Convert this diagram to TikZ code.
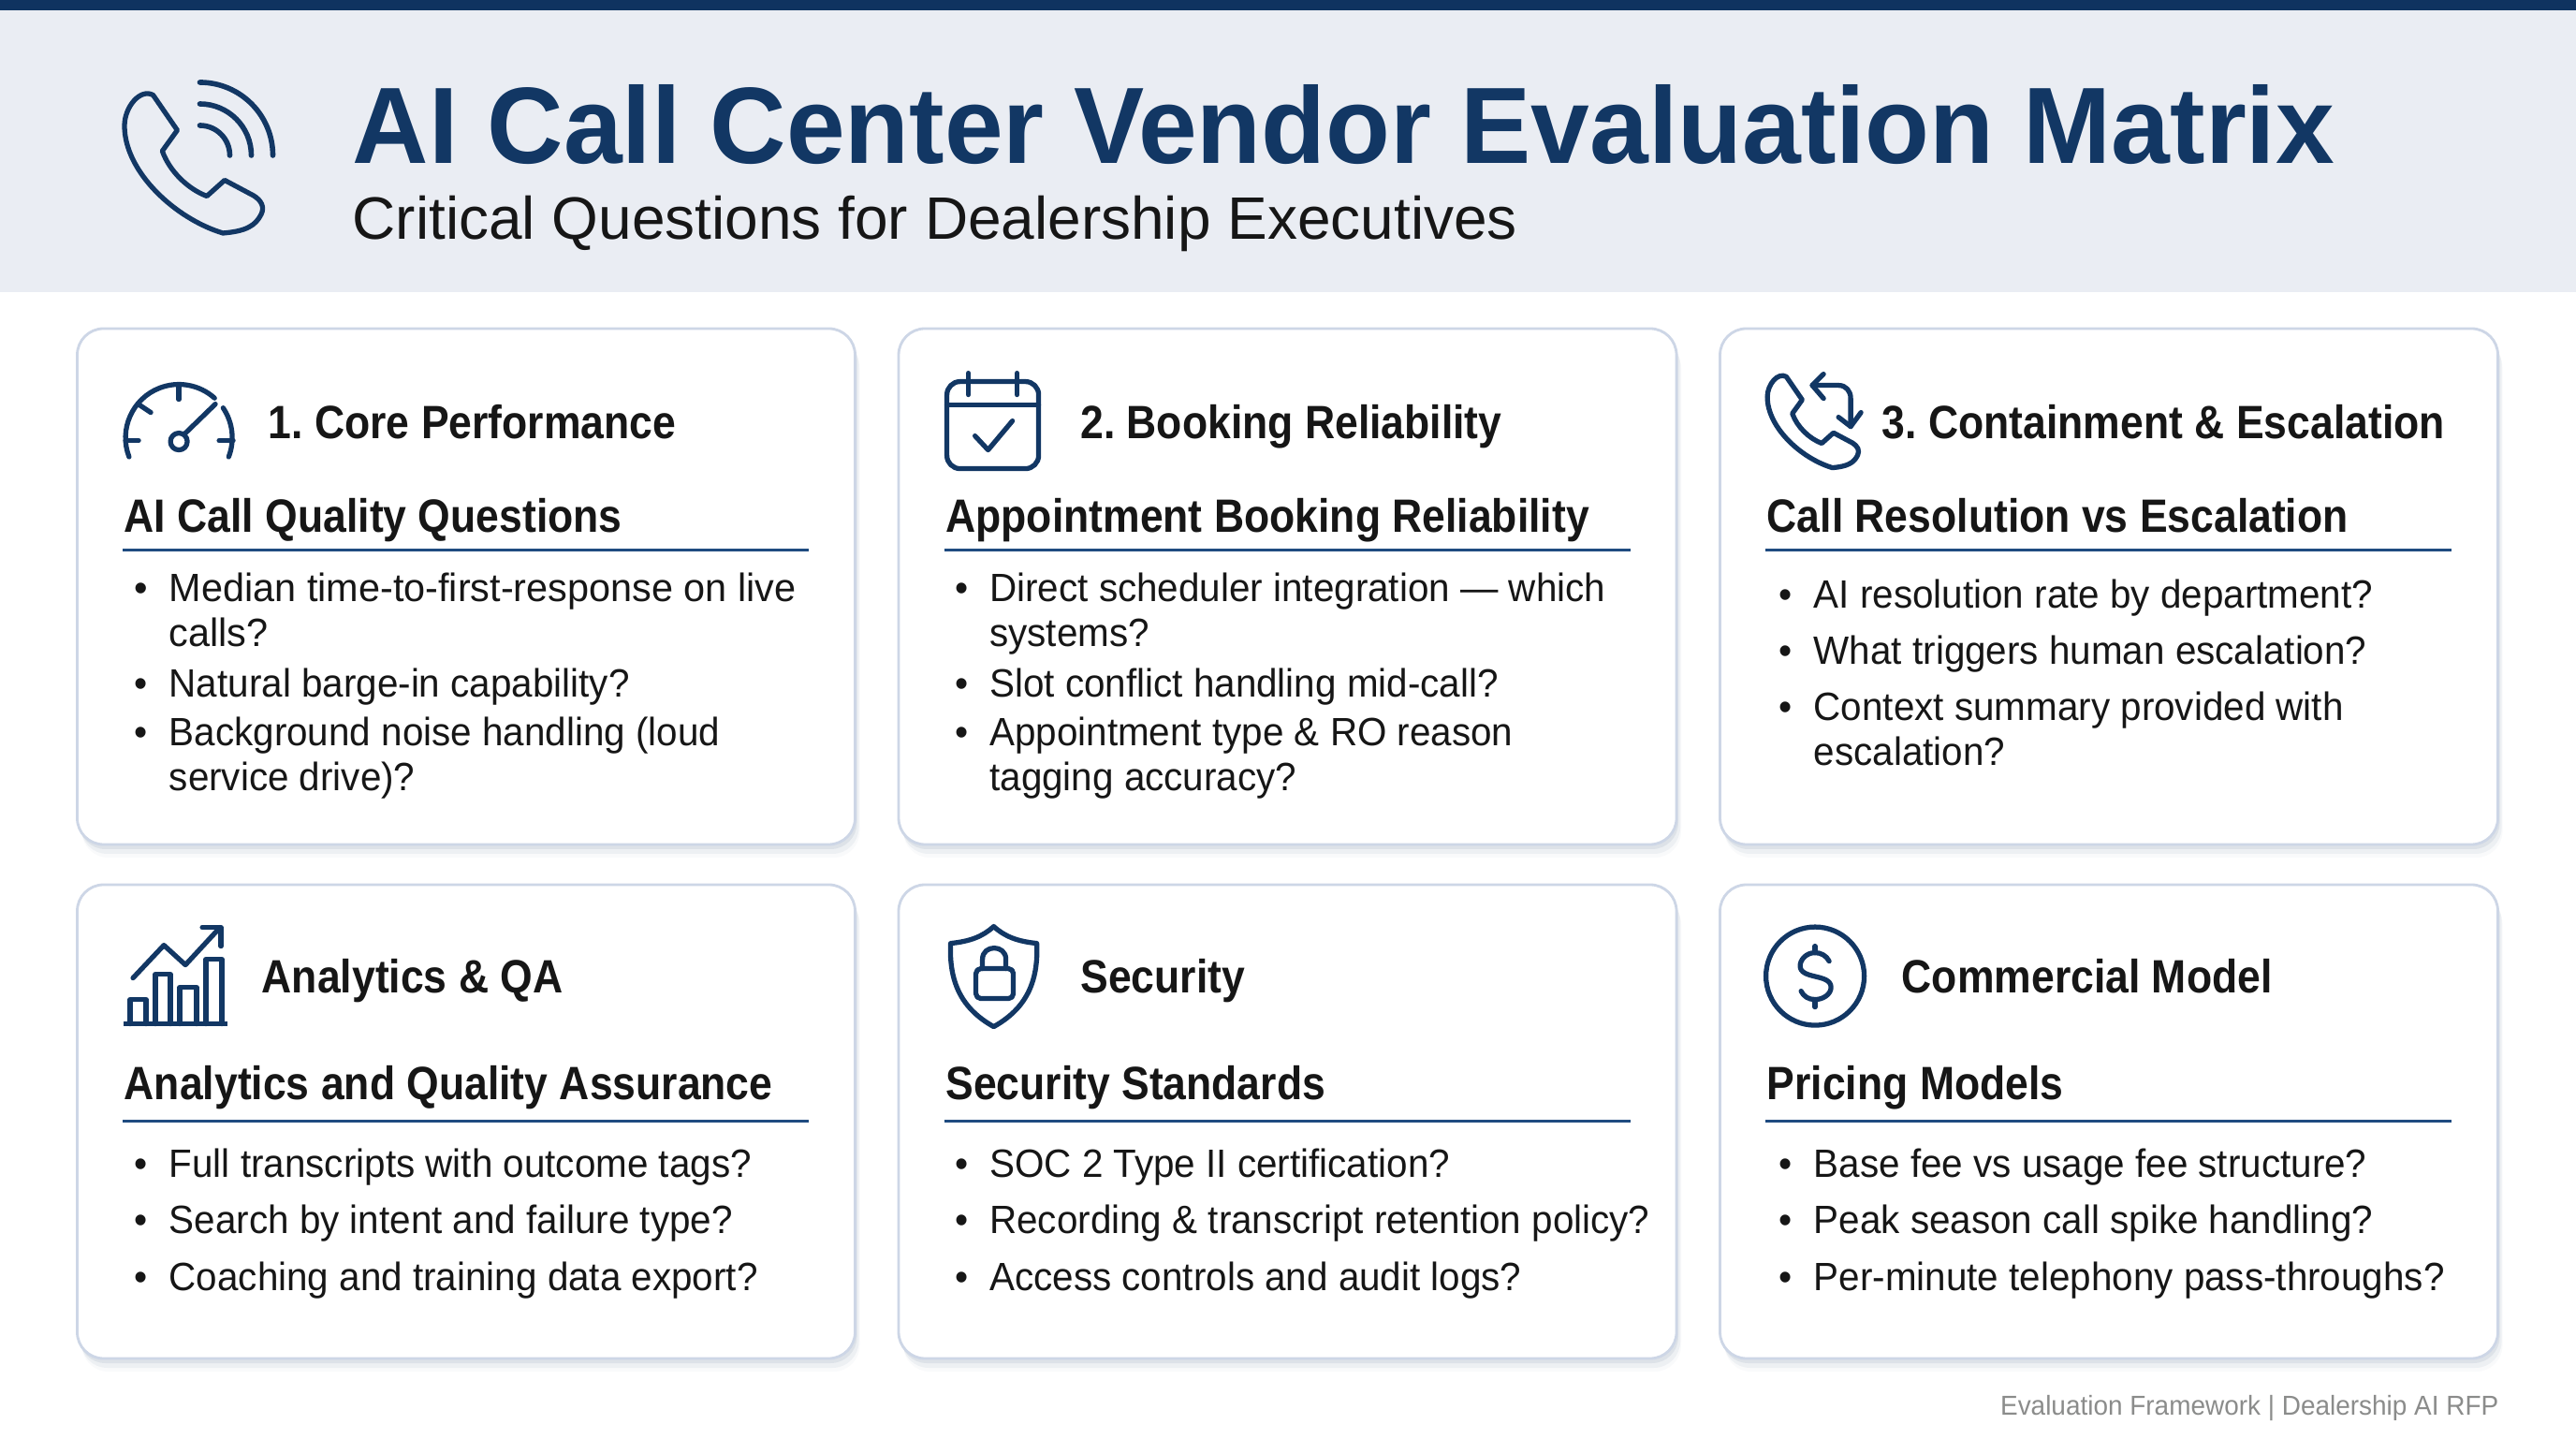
\documentclass[tikz,border=0pt]{standalone}
\usepackage{fontspec}
\setmainfont{Liberation Sans}
\newfontfamily\titlefont[FakeStretch=0.972]{Liberation Sans Bold}
\newfontfamily\headfont[FakeStretch=0.892]{Liberation Sans Bold}
\newfontfamily\itemfont[FakeStretch=0.958]{Liberation Sans}
\newfontfamily\itemwidefont[FakeStretch=0.982]{Liberation Sans}
\usetikzlibrary{calc, shadows}
\usetikzlibrary{positioning}

\definecolor{navy}{HTML}{123764}
\definecolor{topbar}{HTML}{0F3360}
\definecolor{band}{HTML}{EAEDF3}
\definecolor{ink}{HTML}{161616}
\definecolor{edge}{HTML}{CDD6E6}
\definecolor{rulecol}{HTML}{1F4B80}
\definecolor{footgrey}{HTML}{8B8C8B}

\newcommand{\bul}{\llap{\textbullet\hspace{6.5pt}}\strut}

\tikzset{
    card/.style={rectangle, rounded corners=8pt, draw=edge, line width=0.8pt, fill=white, minimum width=8.31cm,
        general shadow={shadow xshift=.05cm, shadow yshift=-.14cm, fill=navy, opacity=.025},
        general shadow={shadow xshift=.04cm, shadow yshift=-.10cm, fill=navy, opacity=.05},
        general shadow={shadow xshift=.02cm, shadow yshift=-.05cm, fill=navy, opacity=.07}},
    headtext/.style={anchor=base west, inner sep=0, text=ink, font=\frenchspacing\headfont\fontsize{14.2}{16}\selectfont},
    subtext/.style={anchor=base west, inner sep=0, text=ink, font=\headfont\fontsize{14.2}{16}\selectfont},
    itemtext/.style={anchor=north west, inner sep=0, align=left, text=ink, font=\itemfont\fontsize{12}{13.8}\selectfont},
    rulebar/.style={draw=rulecol, line width=1.05pt},
    iconline/.style={draw=navy, line width=1.5pt, line cap=round, line join=round},
    pics/handset/.style={code={
        \draw[iconline] (0.306,1.474) -- (0.564,1.099) -- (0.404,0.877)
            .. controls (0.48,0.66) and (0.68,0.47) .. (0.88,0.395) -- (1.07,0.565) -- (1.38,0.40)
            .. controls (1.46,0.35) and (1.50,0.28) .. (1.46,0.20)
            .. controls (1.40,0.08) and (1.30,0.02) .. (1.052,0)
            .. controls (0.55,0.15) and (0,0.65) .. (0,1.146)
            .. controls (0,1.35) and (0.17,1.55) .. cycle;
    }}
}

\begin{document}
\begin{tikzpicture}
    \useasboundingbox (0,0) rectangle (27.52,15.36);

    % header band
    \fill[white] (0,0) rectangle (27.52,15.36);
    \fill[band] (0,12.24) rectangle (27.52,15.36);
    \fill[topbar] (0,15.25) rectangle (27.52,15.36);

    % header text
    \node[anchor=base west, inner sep=0, text=navy, font=\titlefont\fontsize{33}{36}\selectfont] (title) at (3.76,13.61) {AI Call Center Vendor Evaluation Matrix};
    \node[anchor=base west, inner sep=0, text=ink, font=\fontsize{18.2}{20}\selectfont] (subtitle) at (3.76,12.80) {Critical Questions for Dealership Executives};

    % header icon
    \pic (callicon) at (1.33,12.87) {handset};
    \draw[iconline, line width=1.6pt] ($(1.33,12.87) + (0.805,1.61)$) arc (90:0:0.78);
    \draw[iconline, line width=1.6pt] ($(1.33,12.87) + (0.805,1.38)$) arc (90:0:0.55);
    \draw[iconline, line width=1.6pt] ($(1.33,12.87) + (0.805,1.15)$) arc (90:0:0.32);

    % cards
    \node[card, minimum height=5.51cm] (card1) at (4.98,9.095) {};
    \node[card, minimum height=5.51cm] (card2) at ($(card1) + (8.775,0)$) {};
    \node[card, minimum height=5.51cm] (card3) at ($(card2) + (8.775,0)$) {};
    \node[card, minimum height=5.06cm] (card4) at (4.98,3.38) {};
    \node[card, minimum height=5.06cm] (card5) at ($(card4) + (8.775,0)$) {};
    \node[card, minimum height=5.06cm] (card6) at ($(card5) + (8.775,0)$) {};

    % card 1
    \node[headtext] (head1) at ($(card1.north west) + (2.05,-1.19)$) {1. Core Performance};
    \node[subtext] (sub1) at ($(card1.north west) + (0.51,-2.19)$) {AI Call Quality Questions};
    \draw[rulebar] ($(card1.north west) + (0.50,-2.38)$) -- ($(card1.north west) + (7.83,-2.38)$);
    \node[itemtext, font=\itemwidefont\fontsize{12}{13.8}\selectfont] (item11) at ($(card1.north west) + (0.99,-2.58)$) {\bul Median time-to-first-response on live\\calls?};
    \node[itemtext] (item12) at ($(card1.north west) + (0.99,-3.60)$) {\bul Natural barge-in capability?};
    \node[itemtext] (item13) at ($(card1.north west) + (0.99,-4.12)$) {\bul Background noise handling (loud\\service drive)?};

    % card 2
    \node[headtext] (head2) at ($(card2.north west) + (1.95,-1.19)$) {2. Booking Reliability};
    \node[subtext] (sub2) at ($(card2.north west) + (0.51,-2.19)$) {Appointment Booking Reliability};
    \draw[rulebar] ($(card2.north west) + (0.50,-2.38)$) -- ($(card2.north west) + (7.83,-2.38)$);
    \node[itemtext] (item21) at ($(card2.north west) + (0.98,-2.58)$) {\bul Direct scheduler integration — which\\systems?};
    \node[itemtext] (item22) at ($(card2.north west) + (0.98,-3.60)$) {\bul Slot conflict handling mid-call?};
    \node[itemtext] (item23) at ($(card2.north west) + (0.98,-4.12)$) {\bul Appointment type \& RO reason\\tagging accuracy?};

    % card 3
    \node[headtext] (head3) at ($(card3.north west) + (1.74,-1.19)$) {3. Containment \& Escalation};
    \node[subtext] (sub3) at ($(card3.north west) + (0.51,-2.19)$) {Call Resolution vs Escalation};
    \draw[rulebar] ($(card3.north west) + (0.50,-2.38)$) -- ($(card3.north west) + (7.83,-2.38)$);
    \node[itemtext] (item31) at ($(card3.north west) + (1.01,-2.65)$) {\bul AI resolution rate by department?};
    \node[itemtext] (item32) at ($(card3.north west) + (1.01,-3.25)$) {\bul What triggers human escalation?};
    \node[itemtext] (item33) at ($(card3.north west) + (1.01,-3.85)$) {\bul Context summary provided with\\escalation?};

    % card 4
    \node[headtext] (head4) at ($(card4.north west) + (1.98,-1.17)$) {Analytics \& QA};
    \node[subtext] (sub4) at ($(card4.north west) + (0.51,-2.31)$) {Analytics and Quality Assurance};
    \draw[rulebar] ($(card4.north west) + (0.50,-2.54)$) -- ($(card4.north west) + (7.83,-2.54)$);
    \node[itemtext] (item41) at ($(card4.north west) + (0.99,-2.79)$) {\bul Full transcripts with outcome tags?};
    \node[itemtext] (item42) at ($(card4.north west) + (0.99,-3.39)$) {\bul Search by intent and failure type?};
    \node[itemtext] (item43) at ($(card4.north west) + (0.99,-4.00)$) {\bul Coaching and training data export?};

    % card 5
    \node[headtext] (head5) at ($(card5.north west) + (1.95,-1.17)$) {Security};
    \node[subtext] (sub5) at ($(card5.north west) + (0.51,-2.31)$) {Security Standards};
    \draw[rulebar] ($(card5.north west) + (0.50,-2.54)$) -- ($(card5.north west) + (7.83,-2.54)$);
    \node[itemtext] (item51) at ($(card5.north west) + (0.98,-2.79)$) {\bul SOC 2 Type II certification?};
    \node[itemtext] (item52) at ($(card5.north west) + (0.98,-3.39)$) {\bul Recording \& transcript retention policy?};
    \node[itemtext] (item53) at ($(card5.north west) + (0.98,-4.00)$) {\bul Access controls and audit logs?};

    % card 6
    \node[headtext] (head6) at ($(card6.north west) + (1.95,-1.17)$) {Commercial Model};
    \node[subtext] (sub6) at ($(card6.north west) + (0.51,-2.31)$) {Pricing Models};
    \draw[rulebar] ($(card6.north west) + (0.50,-2.54)$) -- ($(card6.north west) + (7.83,-2.54)$);
    \node[itemtext] (item61) at ($(card6.north west) + (1.01,-2.79)$) {\bul Base fee vs usage fee structure?};
    \node[itemtext] (item62) at ($(card6.north west) + (1.01,-3.39)$) {\bul Peak season call spike handling?};
    \node[itemtext] (item63) at ($(card6.north west) + (1.01,-4.00)$) {\bul Per-minute telephony pass-throughs?};

    % gauge icon
    \begin{scope}[shift={($(card1.north west) + (1.10,-1.18)$)}]
        \draw[iconline] (201:0.57) arc (201:48:0.57);
        \draw[iconline] (34:0.57) arc (34:-21:0.57);
        \draw[iconline] (0,0.55) -- (0,0.41);
        \draw[iconline] (-0.42,0.35) -- (-0.30,0.27);
        \draw[iconline] (-0.57,-0.03) -- (-0.43,-0.03);
        \draw[iconline] (0.43,-0.03) -- (0.58,-0.03);
        \draw[iconline] (0,-0.04) circle (0.09);
        \draw[iconline] (0.06,0.04) -- (0.39,0.36);
    \end{scope}

    % calendar icon
    \begin{scope}[shift={(card2.north west)}]
        \draw[iconline, rounded corners=4pt] (0.53,-0.58) rectangle (1.51,-1.51);
        \draw[iconline] (0.53,-0.83) -- (1.51,-0.83);
        \draw[iconline] (0.76,-0.49) -- (0.76,-0.72);
        \draw[iconline] (1.28,-0.49) -- (1.28,-0.72);
        \draw[iconline] (0.83,-1.16) -- (0.97,-1.31) -- (1.23,-1.00);
    \end{scope}

    % call return icon
    \begin{scope}[shift={(card3.north west)}]
        \pic[scale=0.66] (returncall) at (0.52,-1.50) {handset};
        \draw[iconline] (1.00,-0.62) -- (1.28,-0.62) .. controls (1.36,-0.62) and (1.41,-0.68) .. (1.41,-0.76) -- (1.41,-1.06);
        \draw[iconline] (1.12,-0.50) -- (1.00,-0.62) -- (1.12,-0.76);
        \draw[iconline] (1.28,-0.96) -- (1.41,-1.06) -- (1.52,-0.91);
    \end{scope}

    % chart icon
    \begin{scope}[shift={($(card4.north west) + (0.02,-0.01)$)}]
        \draw[navy, line width=1.6pt] (0.49,-1.49) -- (1.60,-1.49);
        \draw[iconline] (0.56,-1.49) -- (0.56,-1.23) -- (0.73,-1.23) -- (0.73,-1.49);
        \draw[iconline] (0.83,-1.49) -- (0.83,-0.96) -- (0.99,-0.96) -- (0.99,-1.49);
        \draw[iconline] (1.09,-1.49) -- (1.09,-1.10) -- (1.27,-1.10) -- (1.27,-1.49);
        \draw[iconline] (1.37,-1.49) -- (1.37,-0.80) -- (1.54,-0.80) -- (1.54,-1.49);
        \draw[iconline] (0.59,-1.00) -- (0.92,-0.65) -- (1.15,-0.86) -- (1.52,-0.46);
        \draw[iconline] (1.33,-0.46) -- (1.53,-0.46) -- (1.53,-0.66);
    \end{scope}

    % shield icon
    \begin{scope}[shift={($(card5.north west) + (0.01,-0.01)$)}]
        \draw[iconline] (1.02,-0.45) .. controls (0.90,-0.56) and (0.76,-0.61) .. (0.56,-0.63)
            .. controls (0.54,-1.05) and (0.68,-1.33) .. (1.02,-1.52)
            .. controls (1.36,-1.33) and (1.50,-1.05) .. (1.48,-0.63)
            .. controls (1.28,-0.61) and (1.14,-0.56) .. cycle;
        \draw[iconline, rounded corners=1.5pt] (0.83,-0.90) rectangle (1.23,-1.22);
        \draw[iconline] (0.90,-0.90) -- (0.90,-0.80) .. controls (0.90,-0.64) and (1.15,-0.64) .. (1.15,-0.80) -- (1.15,-0.90);
    \end{scope}

    % dollar icon
    \begin{scope}[shift={($(card6.north west) + (1.03,-0.99)$)}]
        \draw[iconline] (0,0) circle (0.525);
        \draw[iconline] (0,0.32) -- (0,0.25);
        \draw[iconline] (0,-0.25) -- (0,-0.33);
        \draw[iconline] (0.15,0.16) .. controls (0.12,0.22) and (0.06,0.25) .. (0,0.25)
            .. controls (-0.10,0.25) and (-0.16,0.17) .. (-0.16,0.11)
            .. controls (-0.16,-0.04) and (0.17,0.03) .. (0.17,-0.12)
            .. controls (0.17,-0.19) and (0.09,-0.25) .. (0,-0.25)
            .. controls (-0.07,-0.25) and (-0.12,-0.22) .. (-0.15,-0.16);
    \end{scope}

    % footer
    \node[anchor=base east, inner sep=0, text=footgrey, font=\itemfont\fontsize{8.3}{10}\selectfont] (footer) at (26.70,0.25) {Evaluation Framework | Dealership AI RFP};
\end{tikzpicture}
\end{document}
